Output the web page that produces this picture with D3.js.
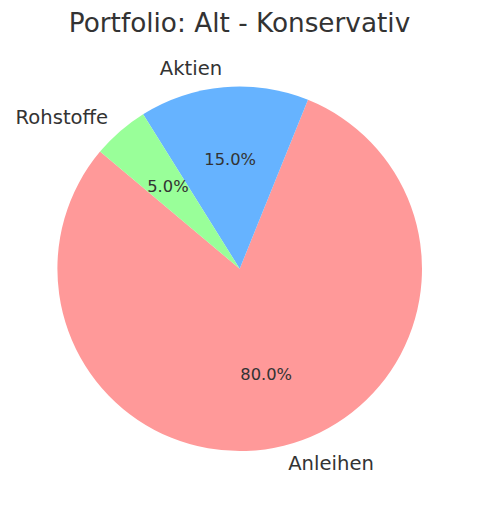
<!DOCTYPE html>
<html lang="de">
<head>
  <meta charset="UTF-8">
  <title>Portfolio: Alt - Konservativ</title>
  <script src="https://d3js.org/d3.v7.min.js"></script>
  <style>
    body { margin: 0; background: #fff; }
    svg { display: block; font-family: "DejaVu Sans", sans-serif; }
  </style>
</head>
<body>
  <svg id="chart" width="479" height="509"></svg>
  <script>
    // data
    const categories = ["Anleihen", "Aktien", "Rohstoffe"];
    const values = [80, 15, 5];
    const colors = ["#ff9999", "#66b3ff", "#99ff99"];
    const title = "Portfolio: Alt - Konservativ";

    const width = 479, height = 509;
    const cx = 239.7, cy = 268.8, radius = 182.3;
    const startDeg = 140; // counterclockwise from 3 o'clock, like matplotlib

    const svg = d3.select("#chart");

    svg.append("text")
      .attr("x", width / 2)
      .attr("y", 32)
      .attr("text-anchor", "middle")
      .attr("font-size", 26.3)
      .attr("fill", "#333")
      .text(title);

    const toRad = d => d * Math.PI / 180;
    const a0 = toRad(90 - startDeg);

    // negative span -> slices run counterclockwise
    const pie = d3.pie()
      .sort(null)
      .value(d => d.value)
      .startAngle(a0)
      .endAngle(a0 - 2 * Math.PI);

    const arcs = pie(categories.map((c, i) => ({ name: c, value: values[i], color: colors[i] })));

    const arc = d3.arc().innerRadius(0).outerRadius(radius);

    const g = svg.append("g").attr("transform", `translate(${cx},${cy})`);

    g.selectAll("path")
      .data(arcs)
      .join("path")
      .attr("d", arc)
      .attr("fill", d => d.data.color);

    const mid = d => (d.startAngle + d.endAngle) / 2;

    // category labels at 1.1 r
    g.selectAll("text.label")
      .data(arcs)
      .join("text")
      .attr("class", "label")
      .attr("x", d => 1.1 * radius * Math.sin(mid(d)))
      .attr("y", d => -1.1 * radius * Math.cos(mid(d)))
      .attr("dy", "0.32em")
      .attr("text-anchor", d => Math.sin(mid(d)) > 0 ? "start" : "end")
      .attr("font-size", 19.6)
      .attr("fill", "#333")
      .text(d => d.data.name);

    // percentages at 0.6 r
    const total = d3.sum(values);
    g.selectAll("text.pct")
      .data(arcs)
      .join("text")
      .attr("class", "pct")
      .attr("x", d => 0.6 * radius * Math.sin(mid(d)))
      .attr("y", d => -0.6 * radius * Math.cos(mid(d)))
      .attr("dy", "0.34em")
      .attr("text-anchor", "middle")
      .attr("font-size", 16.3)
      .attr("fill", "#333")
      .text(d => (d.data.value / total * 100).toFixed(1) + "%");
  </script>
</body>
</html>
